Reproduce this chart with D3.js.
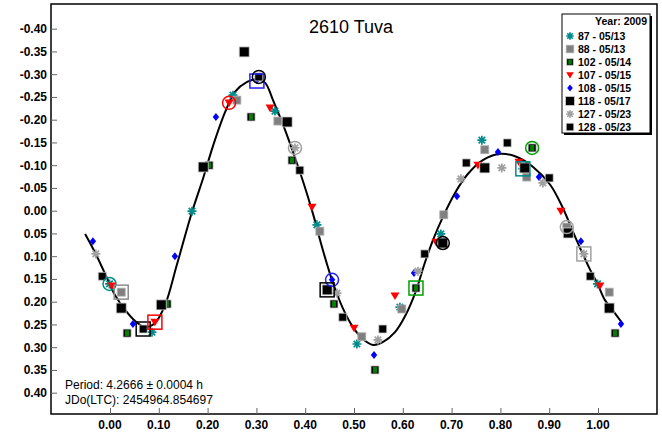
<!DOCTYPE html>
<html>
<head>
<meta charset="utf-8">
<script src="https://cdn.jsdelivr.net/npm/d3@7"></script>
<style>
  body { margin: 0; background: #fff; }
  svg { display: block; }
  text { font-family: Arial, "Liberation Sans", sans-serif; }
</style>
</head>
<body>
<svg id="chart" width="662" height="445"></svg>
<script>
// ---- Lightcurve of (2610) Tuva, folded on the rotation period ----
const title = "2610 Tuva";
const periodText = "Period: 4.2666 \u00b1 0.0004 h";
const epochText = "JDo(LTC): 2454964.854697";
const legendTitle = "Year: 2009";
const sessionLabels = ["87 - 05/13", "88 - 05/13", "102 - 05/14", "107 - 05/15",
                       "108 - 05/15", "118 - 05/17", "127 - 05/23", "128 - 05/23"];

// Observations per session: rotational phase and relative magnitude
const phase87  = [0.999, 0.086, 0.168, 0.252, 0.338, 0.424, 0.506, 0.594, 0.678, 0.762, 0.846];
const mag87    = [0.161, 0.267, 0.001, -0.254, -0.219, 0.031, 0.293, 0.212, 0.051, -0.155, -0.092];
const phase88  = [0.023, 0.260, 0.344, 0.430, 0.516, 0.598, 0.684, 0.768, 0.854, 0.936];
const mag88    = [0.179, -0.243, -0.197, 0.045, 0.277, 0.216, 0.009, -0.134, -0.074, 0.036];
const phase102 = [0.035, 0.117, 0.203, 0.289, 0.373, 0.459, 0.543, 0.627, 0.865];
const mag102   = [0.269, 0.205, -0.100, -0.206, -0.111, 0.205, 0.350, 0.170, -0.138];
const phase107 = [0.004, 0.092, 0.244, 0.328, 0.414, 0.500, 0.584, 0.668, 0.754, 0.838, 0.924];
const mag107   = [0.165, 0.245, -0.237, -0.226, -0.008, 0.258, 0.187, 0.069, -0.100, -0.107, 0.001];
const phase108 = [0.047, 0.133, 0.217, 0.301, 0.455, 0.541, 0.623, 0.711, 0.795, 0.879, 0.965];
const mag108   = [0.249, 0.100, -0.206, -0.287, 0.152, 0.317, 0.137, -0.032, -0.129, -0.074, 0.067];
const phase118 = [0.023, 0.105, 0.191, 0.275, 0.363, 0.445, 0.682, 0.768, 0.850, 0.939];
const mag118   = [0.214, 0.207, -0.096, -0.349, -0.195, 0.174, 0.071, -0.094, -0.094, 0.049];
const phase127 = [0.379, 0.465, 0.549, 0.631, 0.719, 0.803, 0.887, 0.971];
const mag127   = [-0.138, 0.181, 0.284, 0.133, -0.070, -0.094, -0.061, 0.095];
const phase128 = [0.068, 0.305, 0.389, 0.477, 0.559, 0.645, 0.730, 0.814, 0.900, 0.984];
const mag128   = [0.260, -0.294, -0.089, 0.234, 0.260, 0.095, -0.105, -0.149, -0.072, 0.144];

// Fourier fit, sampled along the plotted phase window
const fitPhase = [-0.051, -0.031, -0.010, 0.010, 0.031, 0.051, 0.072, 0.092, 0.113, 0.137,
                  0.168, 0.191, 0.211, 0.236, 0.256, 0.281, 0.301, 0.318, 0.334, 0.355,
                  0.375, 0.396, 0.416, 0.436, 0.457, 0.477, 0.498, 0.518, 0.539, 0.559,
                  0.584, 0.605, 0.627, 0.645, 0.662, 0.682, 0.707, 0.732, 0.764, 0.799,
                  0.834, 0.867, 0.902, 0.928, 0.949, 0.967, 0.984, 1.000, 1.014, 1.031, 1.051];
const fitMag   = [0.051, 0.091, 0.139, 0.185, 0.218, 0.242, 0.256, 0.247, 0.207, 0.119,
                  0.003, -0.072, -0.142, -0.217, -0.261, -0.283, -0.289, -0.281, -0.243, -0.188,
                  -0.129, -0.063, 0.007, 0.086, 0.159, 0.214, 0.256, 0.282, 0.295, 0.289,
                  0.267, 0.231, 0.176, 0.115, 0.064, 0.014, -0.039, -0.079, -0.111, -0.125,
                  -0.118, -0.096, -0.057, -0.006, 0.047, 0.091, 0.130, 0.163, 0.196, 0.220, 0.249];

// First point of each session, marked with an open outline (plotted position)
const firstPhase  = [-0.001, 0.023, 0.068, 0.092, 0.244, 0.301, 0.305, 0.379, 0.455, 0.445,
                     0.627, 0.682, 0.865, 0.846, 0.936, 0.971];
const firstMag    = [0.161, 0.179, 0.260, 0.245, -0.237, -0.285, -0.294, -0.138, 0.152, 0.174,
                     0.170, 0.071, -0.138, -0.092, 0.036, 0.095];
const firstShape  = ["circle", "square", "square", "square", "circle", "square", "circle", "circle",
                     "circle", "square", "square", "circle", "circle", "square", "circle", "square"];
const firstColour = ["#008b8b", "#8c8c8c", "#000000", "#ff0000", "#ff0000", "#2020ff", "#000000", "#a0a0a0",
                     "#2020ff", "#000000", "#00a000", "#000000", "#00a000", "#008b8b", "#a0a0a0", "#a0a0a0"];

const yTicks = [-0.40, -0.35, -0.30, -0.25, -0.20, -0.15, -0.10, -0.05, 0.00,
                0.05, 0.10, 0.15, 0.20, 0.25, 0.30, 0.35, 0.40];
const xTicks = [0.0, 0.1, 0.2, 0.3, 0.4, 0.5, 0.6, 0.7, 0.8, 0.9, 1.0];

// ---- marker styles for each session ----
const series = [
  { label: sessionLabels[0], phase: phase87,  mag: mag87,  kind: "asterisk", color: "#008b8b", r: 4.5 },
  { label: sessionLabels[1], phase: phase88,  mag: mag88,  kind: "square",   color: "#808080", stroke: "#b0b0b0", r: 4 },
  { label: sessionLabels[2], phase: phase102, mag: mag102, kind: "greensq",  color: "#008000", r: 4.5 },
  { label: sessionLabels[3], phase: phase107, mag: mag107, kind: "triangle", color: "#ff0000", r: 4.5 },
  { label: sessionLabels[4], phase: phase108, mag: mag108, kind: "diamond",  color: "#0000ff", r: 4 },
  { label: sessionLabels[5], phase: phase118, mag: mag118, kind: "square",   color: "#000000", r: 5 },
  { label: sessionLabels[6], phase: phase127, mag: mag127, kind: "asterisk", color: "#a0a0a0", r: 4.5 },
  { label: sessionLabels[7], phase: phase128, mag: mag128, kind: "square",   color: "#000000", r: 4 }
];

const svg = d3.select("#chart");
const frame = { left: 51, top: 4, right: 657, bottom: 414 };

const x = d3.scaleLinear().domain([0, 1]).range([110, 598]);
const y = d3.scaleLinear().domain([-0.40, 0.40]).range([28.7, 392.7]);

const fmt = v => {
  const s = Math.abs(v).toFixed(2);
  return (v < -1e-9 ? "-" : "") + s;
};

// plot frame
svg.append("rect")
  .attr("x", frame.left).attr("y", frame.top)
  .attr("width", frame.right - frame.left).attr("height", frame.bottom - frame.top)
  .attr("fill", "#fff").attr("stroke", "#000").attr("stroke-width", 1.5);

// axes (ticks pointing into the plot)
const yAxis = svg.append("g").attr("transform", `translate(${frame.left},0)`)
  .call(d3.axisRight(y).tickValues(yTicks).tickSize(6).tickFormat(""));
yAxis.select(".domain").remove();
yAxis.selectAll("line").attr("stroke", "#666").attr("stroke-width", 1);
svg.append("g").selectAll("text").data(yTicks).join("text")
  .attr("x", 47).attr("y", d => y(d)).attr("dy", "0.36em")
  .attr("text-anchor", "end").attr("font-size", 12).attr("font-weight", "bold")
  .text(fmt);

const xAxis = svg.append("g").attr("transform", `translate(0,${frame.bottom})`)
  .call(d3.axisTop(x).tickValues(xTicks).tickSize(6).tickFormat(""));
xAxis.select(".domain").remove();
xAxis.selectAll("line").attr("stroke", "#666").attr("stroke-width", 1);
svg.append("g").selectAll("text").data(xTicks).join("text")
  .attr("x", d => x(d)).attr("y", 429)
  .attr("text-anchor", "middle").attr("font-size", 12).attr("font-weight", "bold")
  .text(d => d.toFixed(2));

// title
svg.append("text").attr("x", 351).attr("y", 33).attr("text-anchor", "middle")
  .attr("font-size", 18).text(title);

// fitted curve
const fit = fitPhase.map((p, i) => [p, fitMag[i]]);
svg.append("path").datum(fit)
  .attr("fill", "none").attr("stroke", "#000").attr("stroke-width", 2)
  .attr("d", d3.line().x(d => x(d[0])).y(d => y(d[1])).curve(d3.curveCatmullRom.alpha(0.5)));

// marker drawing
function marker(g, kind, color, r, stroke) {
  if (kind === "asterisk") {
    const a = r * 0.72;
    g.append("path")
      .attr("d", `M${-r},0H${r}M0,${-r}V${r}M${-a},${-a}L${a},${a}M${-a},${a}L${a},${-a}`)
      .attr("stroke", color).attr("stroke-width", 1.7).attr("fill", "none");
  } else if (kind === "square") {
    g.append("rect").attr("x", -r).attr("y", -r).attr("width", 2 * r).attr("height", 2 * r)
      .attr("fill", color).attr("stroke", stroke || "#d0d0d0").attr("stroke-width", 0.8);
  } else if (kind === "greensq") {
    g.append("rect").attr("x", -r + 0.5).attr("y", -r + 0.5).attr("width", 2 * r - 1).attr("height", 2 * r - 1)
      .attr("fill", "#000").attr("stroke", "#c8c8c8").attr("stroke-width", 0.8);
    g.append("rect").attr("x", -r * 0.45).attr("y", -r * 0.65).attr("width", r * 0.9).attr("height", r * 1.3)
      .attr("fill", color);
  } else if (kind === "triangle") {
    g.append("path").attr("d", `M${-r},${-r * 0.75}L${r},${-r * 0.75}L0,${r * 0.95}Z`).attr("fill", color);
  } else if (kind === "diamond") {
    g.append("path").attr("d", `M0,${-r}L${r * 0.8},0L0,${r}L${-r * 0.8},0Z`).attr("fill", color);
  }
}

// points, repeated half a tenth of a cycle past each edge of the fold
const lo = -0.055, hi = 1.055;
series.forEach(s => {
  const pts = [];
  s.phase.forEach((p, i) => {
    [p - 1, p, p + 1].forEach(q => { if (q >= lo && q <= hi) pts.push([q, s.mag[i]]); });
  });
  const g = svg.append("g");
  pts.forEach(d => {
    marker(g.append("g").attr("transform", `translate(${x(d[0])},${y(d[1])})`), s.kind, s.color, s.r, s.stroke);
  });
});

// open outlines around each session's first point
firstPhase.forEach((p, i) => {
  const cx = x(p), cy = y(firstMag[i]);
  if (firstShape[i] === "circle") {
    svg.append("circle").attr("cx", cx).attr("cy", cy).attr("r", 6.5)
      .attr("fill", "none").attr("stroke", firstColour[i]).attr("stroke-width", 1.5);
  } else {
    svg.append("rect").attr("x", cx - 7).attr("y", cy - 7).attr("width", 14).attr("height", 14)
      .attr("fill", "none").attr("stroke", firstColour[i]).attr("stroke-width", 1.5);
  }
});

// period / epoch annotation
svg.append("text").attr("x", 65).attr("y", 389).attr("font-size", 12).text(periodText);
svg.append("text").attr("x", 65).attr("y", 404).attr("font-size", 12).text(epochText);

// legend
const lg = { x: 562, y: 14, w: 88, h: 119 };
svg.append("rect").attr("x", lg.x + 2).attr("y", lg.y + 2).attr("width", lg.w).attr("height", lg.h).attr("fill", "#000");
svg.append("rect").attr("x", lg.x).attr("y", lg.y).attr("width", lg.w).attr("height", lg.h)
  .attr("fill", "#fff").attr("stroke", "#000").attr("stroke-width", 1);
svg.append("text").attr("x", lg.x + lg.w - 3).attr("y", lg.y + 11).attr("text-anchor", "end")
  .attr("font-size", 10.5).attr("font-weight", "bold").text(legendTitle);
series.forEach((s, i) => {
  const cy = lg.y + 22 + i * 13;
  marker(svg.append("g").attr("transform", `translate(${lg.x + 8},${cy})`), s.kind, s.color,
         s.kind === "diamond" ? 3.5 : (s.r >= 5 ? 4.5 : 3.8), s.stroke);
  svg.append("text").attr("x", lg.x + 16).attr("y", cy).attr("dy", "0.36em")
    .attr("font-size", 10.5).attr("font-weight", "bold").text(s.label);
});
</script>
</body>
</html>
